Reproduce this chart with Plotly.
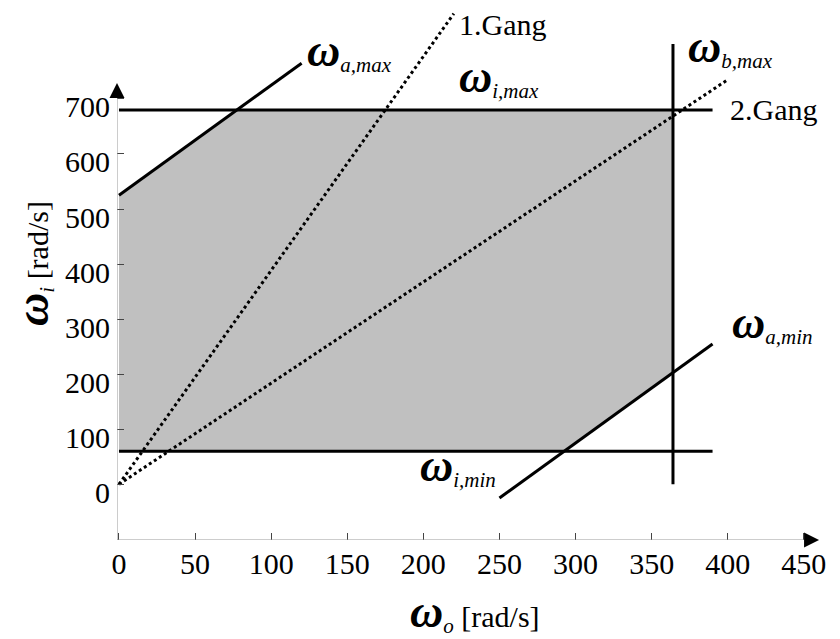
import plotly.graph_objects as go

# ---- data ----
region_x = [0, 292.5, 364, 364, 77.5, 0]
region_y = [60, 60, 203, 680, 680, 525]

w_i_max_x = [0, 390]
w_i_max_y = [680, 680]
w_i_min_x = [0, 390]
w_i_min_y = [60, 60]
w_b_max_x = [364, 364]
w_b_max_y = [0, 800]
w_a_max_x = [0, 120]
w_a_max_y = [525, 765]
w_a_min_x = [250, 390]
w_a_min_y = [-25, 255]
gang1_x = [0, 220]
gang1_y = [0, 855]
gang2_x = [0, 400]
gang2_y = [0, 735]

x_ticks = [0, 50, 100, 150, 200, 250, 300, 350, 400, 450]
y_ticks = [0, 100, 200, 300, 400, 500, 600, 700]

X_MIN, X_MAX = -1.3, 460.6
Y_MIN, Y_MAX = -101.2, 865.2
X_ARROW = 460
Y_ARROW = 729

FONT = "Liberation Serif"
AXIS_GRAY = "#9a9a9a"

fig = go.Figure()

fig.add_trace(go.Scatter(x=region_x, y=region_y, fill="toself", fillcolor="#c0c0c0",
                         line=dict(width=0), mode="lines", hoverinfo="skip"))

solid = dict(color="black", width=3)
for xs, ys in [(w_i_max_x, w_i_max_y), (w_i_min_x, w_i_min_y), (w_b_max_x, w_b_max_y),
               (w_a_max_x, w_a_max_y), (w_a_min_x, w_a_min_y)]:
    fig.add_trace(go.Scatter(x=xs, y=ys, mode="lines", line=solid))

dotted = dict(color="black", width=3, dash="dot")
for xs, ys in [(gang1_x, gang1_y), (gang2_x, gang2_y)]:
    fig.add_trace(go.Scatter(x=xs, y=ys, mode="lines", line=dotted))

def omega(sub):
    return ("<b><i><span style='font-size:46px'>ω</span></i></b>"
            "<sub><i>" + sub + "</i></sub>")

labels = [
    (omega("a,max"), 122, 788),
    (omega("i,max"), 222, 740),
    (omega("b,max"), 372.5, 794),
    (omega("a,min"), 401.5, 293),
    (omega("i,min"), 196.5, 33),
    ("1.Gang", 222, 836),
    ("2.Gang", 400, 681),
]
for text, x, y in labels:
    fig.add_annotation(x=x, y=y, text=text, showarrow=False, xanchor="left",
                       yanchor="middle", font=dict(family=FONT, size=30, color="black"))

# axis lines (gray) with black arrowheads
fig.add_shape(type="line", x0=X_MIN, x1=X_MIN, y0=Y_MIN, y1=Y_ARROW - 8,
              line=dict(color=AXIS_GRAY, width=1))
fig.add_shape(type="line", x0=X_MIN, x1=X_ARROW - 5, y0=Y_MIN, y1=Y_MIN,
              line=dict(color=AXIS_GRAY, width=1))
fig.add_annotation(x=X_MIN, y=Y_ARROW, ax=0, ay=9, text="", showarrow=True,
                   arrowhead=2, arrowsize=3, arrowwidth=1, arrowcolor="black")
fig.add_annotation(x=X_ARROW, y=Y_MIN, ax=-9, ay=0, text="", showarrow=True,
                   arrowhead=2, arrowsize=3, arrowwidth=1, arrowcolor="black")

# axis titles
fig.add_annotation(x=234, y=-0.135, xref="x", yref="paper", xanchor="center", yanchor="middle",
                   text=omega("o") + " [rad/s]", showarrow=False,
                   font=dict(family=FONT, size=30, color="black"))
fig.add_annotation(x=-0.1195, y=402, xref="paper", yref="y", textangle=-90,
                   xanchor="center", yanchor="middle",
                   text=omega("i") + " [rad/s]", showarrow=False,
                   font=dict(family=FONT, size=30, color="black"))

fig.update_layout(
    width=832, height=631,
    margin=dict(l=109, r=20, t=0, b=99, autoexpand=False),
    plot_bgcolor="white", paper_bgcolor="white",
    showlegend=False,
    font=dict(family=FONT, size=30, color="black"),
)
fig.update_xaxes(range=[X_MIN, X_MAX], tickvals=x_ticks, ticktext=[str(v) for v in x_ticks],
                 showgrid=False, zeroline=False, showline=False, automargin=False,
                 ticks="inside", ticklen=7, tickcolor="#444444", tickwidth=1,
                 ticklabelstandoff=3,
                 tickfont=dict(family=FONT, size=30, color="black"))
fig.update_yaxes(range=[Y_MIN, Y_MAX], tickvals=y_ticks, ticktext=[str(v) for v in y_ticks],
                 showgrid=False, zeroline=False, showline=False, automargin=False,
                 ticks="inside", ticklen=7, tickcolor="#444444", tickwidth=1,
                 ticklabelstandoff=6, ticklabelshift=8,
                 tickfont=dict(family=FONT, size=30, color="black"))

fig.write_html("out.html")
